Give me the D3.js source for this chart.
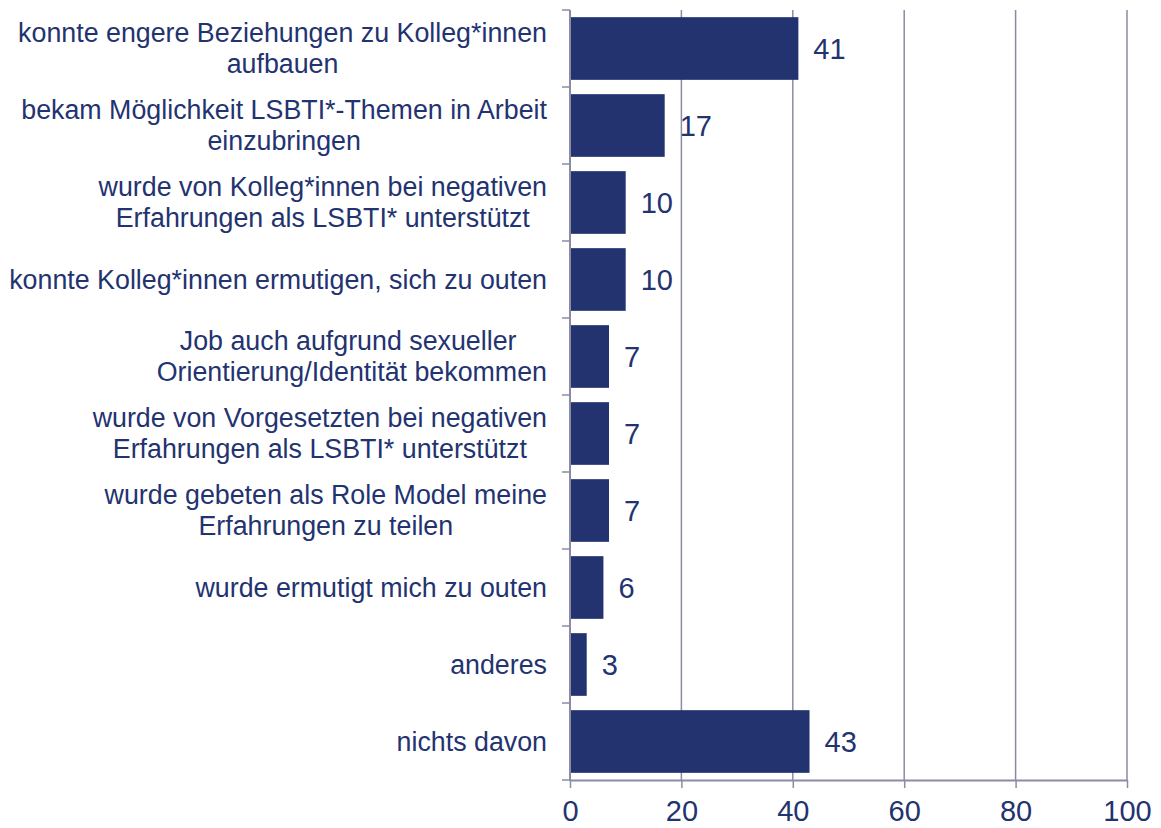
<!DOCTYPE html>
<html>
<head>
<meta charset="utf-8">
<script src="https://cdn.jsdelivr.net/npm/d3@7"></script>
<style>
  body { margin: 0; background: #fff; }
  svg { display: block; font-family: "Liberation Sans", Arial, sans-serif; }
</style>
</head>
<body>
<div class="chart"></div>
<script>
// data
var categories = [
    "konnte engere Beziehungen zu Kolleg*innen\naufbauen",
    "bekam Möglichkeit LSBTI*-Themen in Arbeit\neinzubringen",
    "wurde von Kolleg*innen bei negativen\nErfahrungen als LSBTI* unterstützt",
    "konnte Kolleg*innen ermutigen, sich zu outen",
    "Job auch aufgrund sexueller \nOrientierung/Identität bekommen",
    "wurde von Vorgesetzten bei negativen\nErfahrungen als LSBTI* unterstützt",
    "wurde gebeten als Role Model meine\nErfahrungen zu teilen",
    "wurde ermutigt mich zu outen",
    "anderes",
    "nichts davon"
];
var values = [41, 17, 10, 10, 7, 7, 7, 6, 3, 43];
var xTicks = [0, 20, 40, 60, 80, 100];

var width = 1161,
    height = 828;

var navy = "#233370",
    axisColor = "#8b8ba6";

var svg = d3.select('.chart')
    .append("svg")
    .attr("width", width)
    .attr("height", height);

var x = d3.scaleLinear()
    .domain([0, 100])
    .range([570, 1127]);

var y = d3.scaleBand()
    .domain(categories)
    .range([10, 780])
    .paddingInner(0.186)
    .paddingOuter(0.093);

// vertical gridlines
svg.append("g")
    .selectAll("line")
    .data(xTicks.slice(1))
    .enter().append("line")
    .attr("x1", function (d) { return x(d); })
    .attr("x2", function (d) { return x(d); })
    .attr("y1", 10)
    .attr("y2", 780)
    .style("stroke", axisColor)
    .style("stroke-width", 1.5);

// bars
svg.append("g")
    .selectAll("rect")
    .data(values)
    .enter().append("rect")
    .attr("x", x(0))
    .attr("y", function (d, i) { return y(categories[i]); })
    .attr("width", function (d) { return x(d) - x(0); })
    .attr("height", y.bandwidth())
    .style("fill", navy);

// value labels
svg.append("g")
    .selectAll("text")
    .data(values)
    .enter().append("text")
    .attr("x", function (d) { return x(d) + 15; })
    .attr("y", function (d, i) { return y(categories[i]) + y.bandwidth() / 2; })
    .attr("dy", "0.36em")
    .style("font-size", "29px")
    .style("fill", navy)
    .text(function (d) { return d; });

// x axis
var xAxis = svg.append("g")
    .attr("transform", "translate(0,780)")
    .call(d3.axisBottom(x).tickValues(xTicks).tickSize(8).tickPadding(12).tickSizeOuter(0));
xAxis.select(".domain").style("stroke", axisColor).style("stroke-width", 2);
xAxis.selectAll(".tick line").style("stroke", axisColor).style("stroke-width", 1.5);
xAxis.selectAll("text")
    .style("font-size", "29px")
    .style("font-family", "'Liberation Sans', Arial, sans-serif")
    .style("fill", navy);

// y axis line with ticks at band boundaries
var step = y.step(),
    y0 = y.range()[0];
var bounds = d3.range(categories.length + 1).map(function (i) { return y0 + i * step; });

svg.append("line")
    .attr("x1", x(0)).attr("x2", x(0))
    .attr("y1", 10).attr("y2", 781)
    .style("stroke", axisColor)
    .style("stroke-width", 2);

svg.append("g")
    .selectAll("line")
    .data(bounds)
    .enter().append("line")
    .attr("x1", x(0) - 8)
    .attr("x2", x(0))
    .attr("y1", function (d) { return d; })
    .attr("y2", function (d) { return d; })
    .style("stroke", axisColor)
    .style("stroke-width", 1.5);

// category labels: lines centred on each other, block right-aligned
var labelRight = 547,
    lineHeight = 31;

categories.forEach(function (c) {
    var lines = c.split("\n");
    var g = svg.append("g").style("font-size", "26.8px").style("fill", navy);
    var texts = lines.map(function (l, j) {
        return g.append("text")
            .attr("y", y(c) + y.bandwidth() / 2 + (j - (lines.length - 1) / 2) * lineHeight)
            .attr("dy", "0.35em")
            .attr("text-anchor", "middle")
            .style("white-space", "pre")
            .text(l);
    });
    var maxW = d3.max(texts, function (t) { return t.node().getComputedTextLength(); });
    texts.forEach(function (t) { t.attr("x", labelRight - maxW / 2); });
});
</script>
</body>
</html>
